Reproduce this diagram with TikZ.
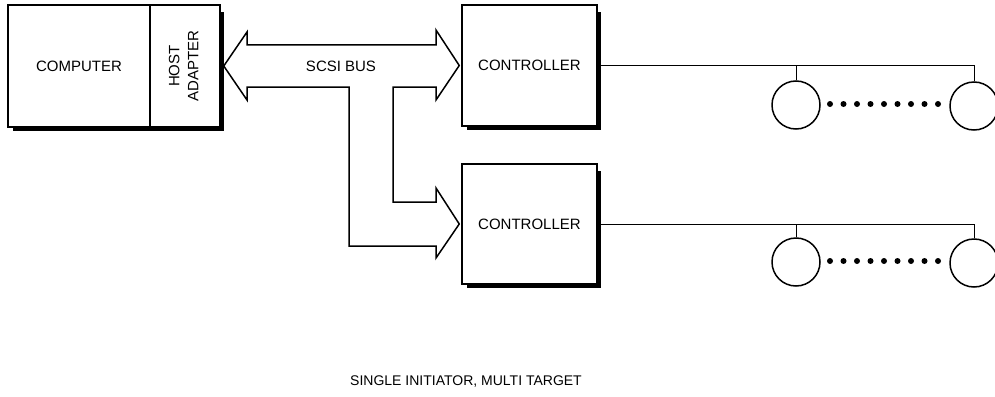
\documentclass[tikz,border=0pt]{standalone}
\usepackage{fontspec}
\setmainfont{Liberation Sans}
\usepackage{tikz}

\tikzset{
  box/.style={draw,line width=1.5pt,inner sep=0pt,font=\fontsize{15}{19}\selectfont},
  shade/.style={line width=3pt},
  bus/.style={line width=1.5pt,line join=miter},
  disk/.style={draw,circle,line width=1.5pt,minimum size=48pt,inner sep=0pt},
  wire/.style={line width=1pt}
}
\newcommand{\dropshade}[2]{\draw[shade] ([xshift=2pt,yshift=-8pt]#1.north east) -- ([xshift=2pt,yshift=-2pt]#1.south east) -- ([xshift=6pt,yshift=-2pt]#2.south west);}

\begin{document}
\begin{tikzpicture}[x=1pt,y=-1pt]
\useasboundingbox (0,0) rectangle (995,396);
\node[box,minimum width=142pt,minimum height=122pt] (comp) at (79,66) {COMPUTER};
\node[box,minimum width=70pt,minimum height=122pt] (ha) at (185,66) {\rotatebox{90}{\begin{tabular}{@{}c@{}}HOST\\ADAPTER\end{tabular}}};
\node[box,minimum width=135pt,minimum height=121pt] (ctlA) at (529.5,65.5) {CONTROLLER};
\node[box,minimum width=135pt,minimum height=120pt] (ctlB) at (529.5,224) {CONTROLLER};
\dropshade{ha}{comp}
\dropshade{ctlA}{ctlA}
\dropshade{ctlB}{ctlB}

\coordinate (busL) at ([xshift=3pt]ha.east);
\coordinate (busA) at ([xshift=-2pt]ctlA.west);
\coordinate (busB) at ([xshift=-2pt]ctlB.west);
\draw[bus] (busL) -- (247,32) -- (247,45) -- (436,45) -- (436,30) -- (busA) -- (436,100) -- (436,87) -- (393,87) -- (393,202) -- (436,202) -- (436,188) -- (busB) -- (436,258) -- (436,246) -- (349,246) -- (349,87) -- (247,87) -- (247,100) -- cycle;
\node[font=\fontsize{15}{18}\selectfont] (buslabel) at (341,66) {SCSI BUS};

\node[disk] (dskA1) at (796,105) {};
\node[disk] (dskA2) at (974,106) {};
\node[disk] (dskB1) at (796,262) {};
\node[disk] (dskB2) at (974,263) {};
\draw[wire] (ctlA.east) -- (ctlA.east -| dskA2.north) -- (dskA2.north);
\draw[wire] (dskA1.north) -- (dskA1.north |- ctlA.east);
\draw[wire] (ctlB.east) -- (ctlB.east -| dskB2.north) -- (dskB2.north);
\draw[wire] (dskB1.north) -- (dskB1.north |- ctlB.east);
\foreach \i in {0,...,8} {
  \fill (830+13.5*\i,104) circle (3pt);
  \fill (830+13.5*\i,261) circle (3pt);
}

\node[font=\fontsize{14}{16}\selectfont] (caption) at (466,382) {SINGLE INITIATOR, MULTI TARGET};
\end{tikzpicture}
\end{document}
